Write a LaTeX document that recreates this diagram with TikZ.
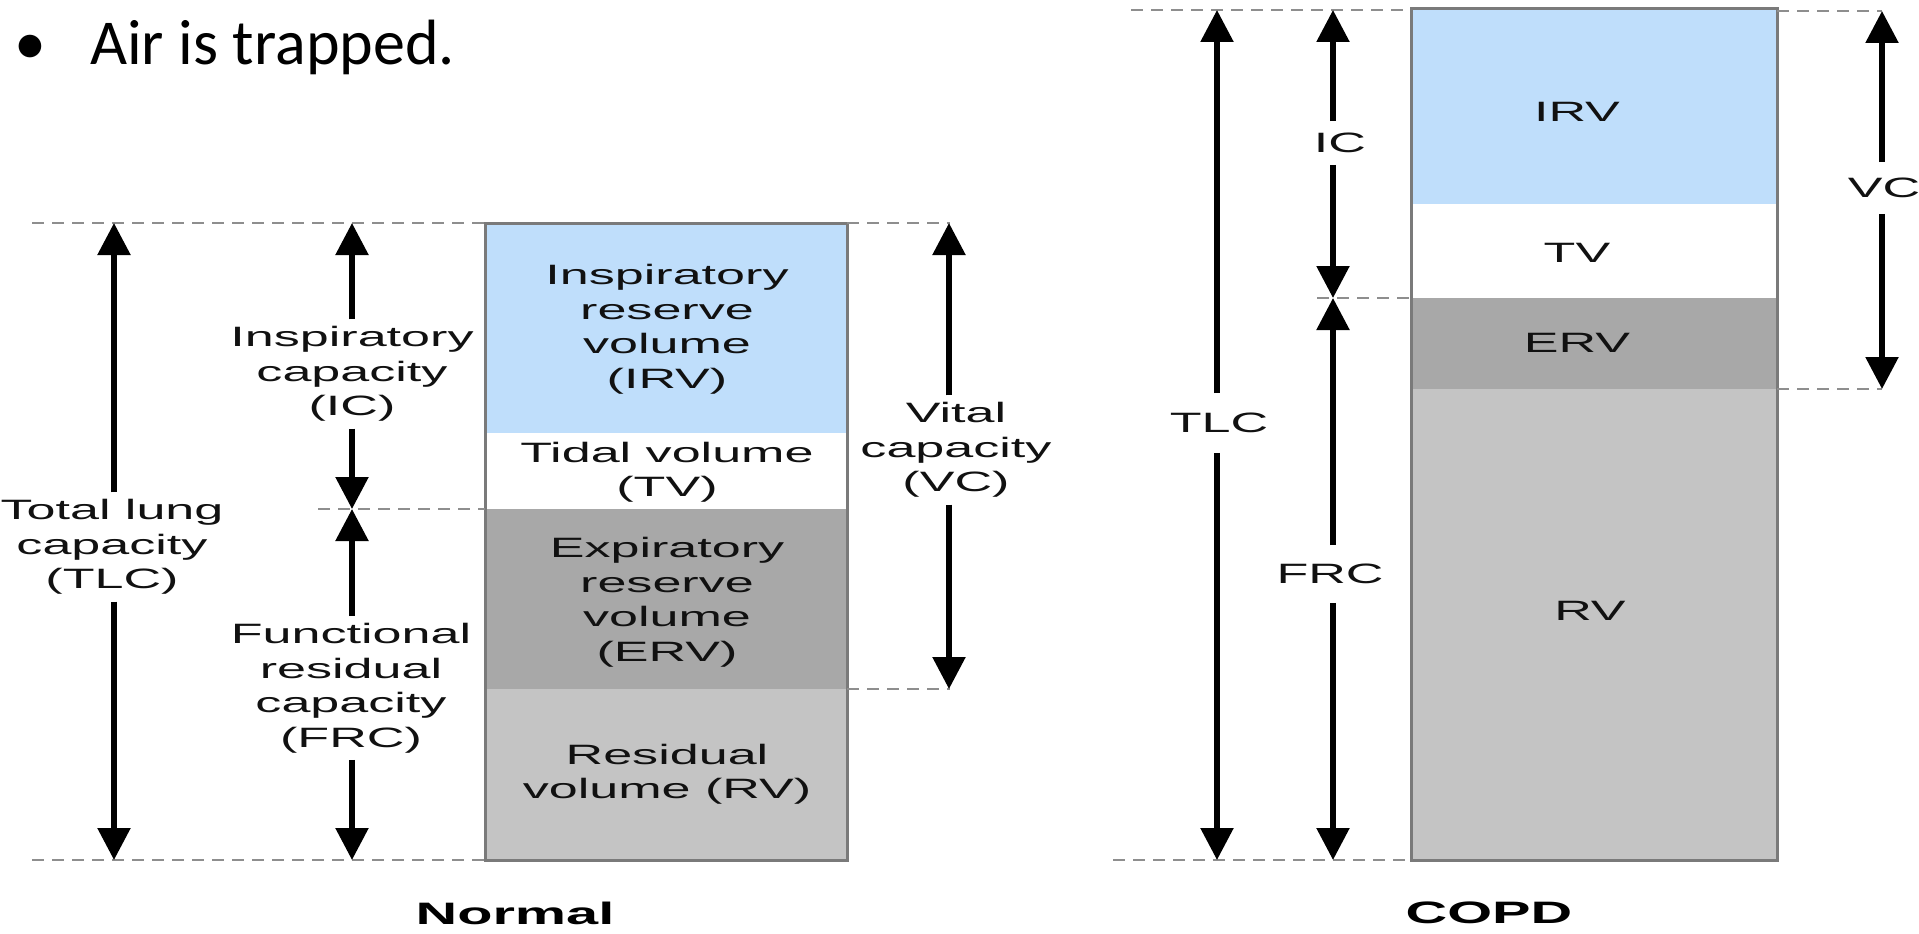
\documentclass[tikz,border=0pt]{standalone}
\usepackage{fontspec}
\setmainfont{Carlito}
\newfontfamily\diag[FakeStretch=1.86]{Liberation Sans}
\usetikzlibrary{arrows.meta}
\definecolor{irvblue}{HTML}{BFDEFB}
\definecolor{ervgray}{HTML}{A8A8A8}
\definecolor{rvgray}{HTML}{C4C4C4}
\definecolor{edgegray}{HTML}{7A7A7A}
\definecolor{dashgray}{HTML}{8E8E8E}
\definecolor{ink}{HTML}{111111}
\begin{document}
\begin{tikzpicture}[x=1pt,y=-1pt,
  guide/.style={draw=dashgray,line width=2pt,dash pattern=on 12pt off 8pt},
  barbox/.style={draw=edgegray,line width=3pt},
  dimarrow/.style={line width=5.5pt,-{Triangle[length=32pt,width=32pt]}},
  lbl/.style={font=\diag\fontsize{28}{34.5}\selectfont,text=ink,align=center,inner xsep=2pt,inner ysep=7pt,outer sep=0pt},
  ttl/.style={font=\diag\bfseries\fontsize{31}{36}\selectfont,text=black,inner sep=0pt}
]
\fill[white] (0,0) rectangle (1919,934);
\useasboundingbox (0,0) rectangle (1919,934);

% heading
\node[font=\fontsize{64}{70}\selectfont,anchor=base,inner sep=0pt] (bullet) at (30,64) {\textbullet};
\node[font=\fontsize{64}{70}\selectfont,anchor=base west,inner sep=0pt] (heading) at (90,64) {Air is trapped.};

% ---------------- Normal bar
\fill[irvblue] (485,223) rectangle (847,433);
\fill[white] (485,433) rectangle (847,509);
\fill[ervgray] (485,509) rectangle (847,689);
\fill[rvgray] (485,689) rectangle (847,860);
\draw[barbox] (485,223) rectangle (847,860);

\draw[guide] (32,223) -- (485,223);
\draw[guide] (847,223) -- (950,223);
\draw[guide] (318,509) -- (485,509);
\draw[guide] (847,689) -- (950,689);
\draw[guide] (32,860) -- (485,860);

\coordinate (tlcNt) at (114,223);
\coordinate (tlcNb) at (114,860);
\coordinate (icNt) at (352,223);
\coordinate (icNb) at (352,509);
\coordinate (frcNt) at (352,509);
\coordinate (frcNb) at (352,860);
\coordinate (vcNt) at (949,223);
\coordinate (vcNb) at (949,689);

\node[lbl] (tlcN) at (112,547) {Total lung\\capacity\\(TLC)};
\node[lbl] (icN) at (352,374) {Inspiratory\\capacity\\(IC)};
\node[lbl] (frcN) at (351,688) {Functional\\residual\\capacity\\(FRC)};
\node[lbl] (vcN) at (956,450) {Vital\\capacity\\(VC)};

\draw[dimarrow] (tlcNt |- tlcN.north) -- (tlcNt);
\draw[dimarrow] (tlcNb |- tlcN.south) -- (tlcNb);
\draw[dimarrow] (icNt |- icN.north) -- (icNt);
\draw[dimarrow] (icNb |- icN.south) -- (icNb);
\draw[dimarrow] (frcNt |- frcN.north) -- (frcNt);
\draw[dimarrow] (frcNb |- frcN.south) -- (frcNb);
\draw[dimarrow] (vcNt |- vcN.north) -- (vcNt);
\draw[dimarrow] (vcNb |- vcN.south) -- (vcNb);

\node[lbl] (irvN) at (667,329) {Inspiratory\\reserve\\volume\\(IRV)};
\node[lbl] (tvN) at (667,472) {Tidal volume\\(TV)};
\node[lbl] (ervN) at (667,602) {Expiratory\\reserve\\volume\\(ERV)};
\node[lbl] (rvN) at (667,774) {Residual\\volume (RV)};
\node[ttl] (normal) at (515,913) {Normal};

% ---------------- COPD bar
\fill[irvblue] (1411,9) rectangle (1777,204);
\fill[white] (1411,204) rectangle (1777,298);
\fill[ervgray] (1411,298) rectangle (1777,389);
\fill[rvgray] (1411,389) rectangle (1777,860);
\draw[barbox] (1411,9) rectangle (1777,860);

\draw[guide] (1131,10) -- (1411,10);
\draw[guide] (1777,11) -- (1882,11);
\draw[guide] (1317,298) -- (1411,298);
\draw[guide] (1777,389) -- (1882,389);
\draw[guide] (1113,860) -- (1411,860);

\coordinate (tlcCt) at (1217,10);
\coordinate (tlcCb) at (1217,860);
\coordinate (icCt) at (1333,10);
\coordinate (icCb) at (1333,298);
\coordinate (frcCt) at (1333,298);
\coordinate (frcCb) at (1333,860);
\coordinate (vcCt) at (1882,11);
\coordinate (vcCb) at (1882,389);

\node[lbl,inner ysep=20pt] (tlcC) at (1219,423) {TLC};
\node[lbl,inner ysep=12pt] (icC) at (1340,143) {IC};
\node[lbl,inner ysep=19pt] (frcC) at (1330,574) {FRC};
\node[lbl,inner ysep=16pt] (vcC) at (1884,188) {VC};

\draw[dimarrow] (tlcCt |- tlcC.north) -- (tlcCt);
\draw[dimarrow] (tlcCb |- tlcC.south) -- (tlcCb);
\draw[dimarrow] (icCt |- icC.north) -- (icCt);
\draw[dimarrow] (icCb |- icC.south) -- (icCb);
\draw[dimarrow] (frcCt |- frcC.north) -- (frcCt);
\draw[dimarrow] (frcCb |- frcC.south) -- (frcCb);
\draw[dimarrow] (vcCt |- vcC.north) -- (vcCt);
\draw[dimarrow] (vcCb |- vcC.south) -- (vcCb);

\node[lbl] (irvC) at (1577,112) {IRV};
\node[lbl] (tvC) at (1577,253) {TV};
\node[lbl] (ervC) at (1577,343) {ERV};
\node[lbl] (rvC) at (1590,611) {RV};
\node[ttl] (copd) at (1489,913) {COPD};
\end{tikzpicture}
\end{document}
